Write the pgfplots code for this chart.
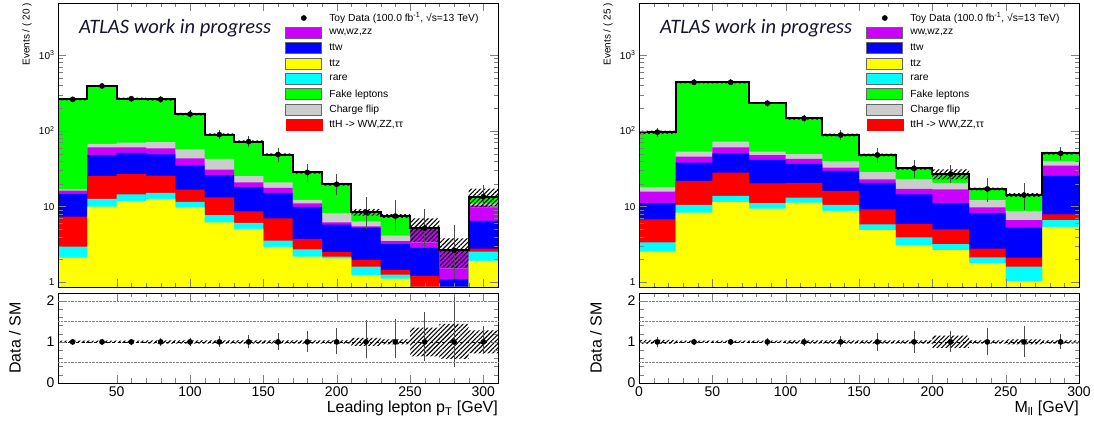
\documentclass[border=0pt]{standalone}
\usepackage{fontspec}
\setmainfont{Liberation Sans}
\newfontfamily\atlasfont{Carlito}
\usepackage{pgfplots}
\pgfplotsset{compat=1.18}
\usepackage{pgfplotstable}
\usetikzlibrary{patterns.meta}

\definecolor{cYel}{RGB}{255,255,0}
\definecolor{cCyan}{RGB}{0,255,255}
\definecolor{cRed}{RGB}{255,0,0}
\definecolor{cBlue}{RGB}{0,0,255}
\definecolor{cMag}{RGB}{204,0,255}
\definecolor{cGray}{RGB}{204,204,204}
\definecolor{cGreen}{RGB}{0,255,0}
\definecolor{cAtlas}{RGB}{20,20,45}

% cumulative stack tops (yel, +cyan, +red, +blue, +mag, +gray, total), data ratio error (rd,ru), band (bd,bu)
\pgfplotstableread{
x   yel  cyn  red  blu  mag  gry  tot  rd   ru   bd   bu
10  2.13 2.96 7.4  14.7 16.3 16.9 260  0.98 1.02 0.97 1.03
30  10   12.6 25.3 47.7 60.5 67   390  0.98 1.02 0.97 1.03
50  11.8 14.5 26.8 51   60.5 69.7 265  0.97 1.03 0.97 1.03
70  12.6 15.2 25.6 49   58.7 71   260  0.96 1.04 0.96 1.04
90  9.8  11.5 16.7 34.6 43.4 57   166  0.95 1.05 0.96 1.04
110 6.2  7.7  13.2 26.1 30.7 42.5 89   0.92 1.09 0.96 1.04
130 5.1  6.1  8.65 18   20.9 25.3 72   0.89 1.12 0.96 1.04
150 2.95 3.55 7.0  15.2 17.6 20.9 48.6 0.85 1.16 0.96 1.04
170 2.19 2.73 3.74 9.9  11   12.3 28.3 0.80 1.22 0.96 1.04
190 2.07 2.19 2.5  5.8  6.2  8.2  19.7 0.76 1.28 0.96 1.04
210 1.25 1.61 1.98 5.3  5.5  6.4  8.4  0.65 1.48 0.90 1.10
230 1.12 1.27 1.46 3.2  3.5  4.15 7.5  0.65 1.52 0.94 1.06
250 0.6  0.7  1.21 2.85 5.1  5.1  5.2  0.58 1.68 0.65 1.35
270 0.4  0.5  0.7  1.1  2.6  2.6  2.65 0.45 2.06 0.58 1.44
290 1.93 2.55 2.8  6.5  10.3 11   13.5 0.75 1.35 0.72 1.28
310 1.93 2.55 2.8  6.5  10.3 11   13.5 0.75 1.35 0.72 1.28
}\leftdata

\pgfplotstableread{
x   yel  cyn  red  blu  mag  gry  tot  rd   ru   bd   bu
0   2.54 3.38 6.8  11.1 15.7 18   96   0.93 1.07 0.95 1.05
25  8.3  10.5 21.8 37.9 45.5 53   436  0.97 1.03 0.97 1.03
50  11.5 13.9 28   50.5 60.5 71.8 436  0.97 1.03 0.97 1.03
75  9.4  11.1 20.3 41.2 47.9 53   231  0.96 1.04 0.97 1.03
100 11.3 13.1 20.6 36.5 42.5 49.4 146  0.95 1.05 0.96 1.04
125 8.75 10.5 16.1 29.5 32.6 39.8 88   0.92 1.09 0.96 1.04
150 4.9  5.85 9.2  20.6 22.9 28.6 48   0.83 1.16 0.96 1.04
175 3.1  3.94 5.9  14.5 17.1 23.1 32   0.78 1.22 0.96 1.04
200 2.67 3.2  5.0  11.1 16.9 20.6 26.9 0.80 1.22 0.85 1.15
225 1.79 2.14 2.8  8.2  9.8  12.2 17.1 0.72 1.30 0.96 1.04
250 1.04 1.61 2.12 5.3  6.65 8.8  14.2 0.68 1.35 0.94 1.06
275 5.4  6.65 7.9  25.4 34.7 39.8 50.5 0.87 1.14 0.96 1.04
300 5.4  6.65 7.9  25.4 34.7 39.8 50.5 0.87 1.14 0.96 1.04
}\rightdata

\tikzset{
  hpat/.style={pattern={Lines[angle=45,distance=3.2pt,line width=1.1pt]}, pattern color=black}
}

\begin{document}
\begin{tikzpicture}[x=1pt,y=1pt]
\useasboundingbox (0,0) rectangle (1094,425);

% ================= LEFT TOP =================
\begin{axis}[scale only axis, width=440pt, height=284pt, axis on top,
  at={(58pt,138pt)}, anchor=south west,
  axis line style={line width=0.9pt},
  major tick length=8pt, minor tick length=4.5pt, tick align=inside,
  xmin=10, xmax=310, xtick={50,100,150,200,250,300}, minor x tick num=4,
  xticklabels={},
  ymode=log, ymin=0.87, ymax=4850, log origin y=infty,
  ytick={1,10,100,1000},
  yticklabels={1,10,10\textsuperscript{2},10\textsuperscript{3}},
  yticklabel style={font=\fontsize{10}{12}\selectfont},
  ylabel={Events / ( 20 )},
  ylabel style={font=\fontsize{10}{12}\selectfont, at={(axis description cs:-0.0705,1)}, anchor=east, inner sep=0pt},
  legend cell align=left,
  legend style={draw=none, fill=none, inner sep=0pt,
    at={(axis description cs:0.5164,0.9673)}, anchor=north west,
    font=\fontsize{10.3}{12}\selectfont, row sep=3.5pt,
    nodes={inner sep=0.5pt}}]
\addplot[const plot, draw=none, forget plot, hpat] table[x=x, y expr=\thisrow{tot}*\thisrow{bu}]{\leftdata} \closedcycle;
\addplot[const plot, draw=none, forget plot, fill=cGreen] table[x=x,y=tot]{\leftdata} \closedcycle;
\addplot[const plot, draw=none, forget plot, fill=cGray] table[x=x,y=gry]{\leftdata} \closedcycle;
\addplot[const plot, draw=none, forget plot, fill=cMag] table[x=x,y=mag]{\leftdata} \closedcycle;
\addplot[const plot, draw=none, forget plot, fill=cBlue] table[x=x,y=blu]{\leftdata} \closedcycle;
\addplot[const plot, draw=none, forget plot, fill=cRed] table[x=x,y=red]{\leftdata} \closedcycle;
\addplot[const plot, draw=none, forget plot, fill=cCyan] table[x=x,y=cyn]{\leftdata} \closedcycle;
\addplot[const plot, draw=none, forget plot, fill=cYel] table[x=x,y=yel]{\leftdata} \closedcycle;
\addplot[const plot, draw=none, forget plot, hpat] table[x=x, y=tot]{\leftdata} \closedcycle;
\addplot[const plot, draw=none, forget plot, fill=cGreen] table[x=x,y expr=\thisrow{tot}*\thisrow{bd}]{\leftdata} \closedcycle;
\addplot[const plot, draw=none, forget plot, fill=cGray] table[x=x,y expr={min(\thisrow{gry},\thisrow{tot}*\thisrow{bd})}]{\leftdata} \closedcycle;
\addplot[const plot, draw=none, forget plot, fill=cMag] table[x=x,y expr={min(\thisrow{mag},\thisrow{tot}*\thisrow{bd})}]{\leftdata} \closedcycle;
\addplot[const plot, draw=none, forget plot, fill=cBlue] table[x=x,y expr={min(\thisrow{blu},\thisrow{tot}*\thisrow{bd})}]{\leftdata} \closedcycle;
\addplot[const plot, draw=none, forget plot, fill=cRed] table[x=x,y expr={min(\thisrow{red},\thisrow{tot}*\thisrow{bd})}]{\leftdata} \closedcycle;
\addplot[const plot, draw=none, forget plot, fill=cCyan] table[x=x,y expr={min(\thisrow{cyn},\thisrow{tot}*\thisrow{bd})}]{\leftdata} \closedcycle;
\addplot[const plot, draw=none, forget plot, fill=cYel] table[x=x,y expr={min(\thisrow{yel},\thisrow{tot}*\thisrow{bd})}]{\leftdata} \closedcycle;
\addplot[const plot, black, line width=2pt, forget plot] table[x=x,y=tot]{\leftdata};
\addplot[forget plot, only marks, mark=*, mark size=2.6pt, black, skip coords between index={15}{16},
  error bars/.cd, y dir=both, y explicit,
  error bar style={line width=0.7pt, black!70},
  error mark options={line width=0.7pt, black!70, mark size=2pt}]
  table[x expr=\thisrow{x}+10, y=tot,
  y error plus expr=\thisrow{tot}*(\thisrow{ru}-1), y error minus expr=\thisrow{tot}*(1-\thisrow{rd})]{\leftdata};
\addlegendimage{legend image code/.code={\path[draw=none,fill=none] (0pt,-5.5pt) rectangle (43pt,5.5pt); \fill[black] (18pt,0pt) circle (2.6pt);}}
\addlegendentry{Toy Data (100.0 fb\textsuperscript{-1}, √s=13 TeV)}
\addlegendimage{legend image code/.code={\path[draw=none,fill=none] (0pt,-5.5pt) rectangle (43pt,5.5pt); \draw[fill=cMag, draw=black!60, line width=0.8pt] (0pt,-5.5pt) rectangle (36pt,5.5pt);}}
\addlegendentry{ww,wz,zz}
\addlegendimage{legend image code/.code={\path[draw=none,fill=none] (0pt,-5.5pt) rectangle (43pt,5.5pt); \draw[fill=cBlue, draw=black!60, line width=0.8pt] (0pt,-5.5pt) rectangle (36pt,5.5pt);}}
\addlegendentry{ttw}
\addlegendimage{legend image code/.code={\path[draw=none,fill=none] (0pt,-5.5pt) rectangle (43pt,5.5pt); \draw[fill=cYel, draw=black!60, line width=0.8pt] (0pt,-5.5pt) rectangle (36pt,5.5pt);}}
\addlegendentry{ttz}
\addlegendimage{legend image code/.code={\path[draw=none,fill=none] (0pt,-5.5pt) rectangle (43pt,5.5pt); \draw[fill=cCyan, draw=black!60, line width=0.8pt] (0pt,-5.5pt) rectangle (36pt,5.5pt);}}
\addlegendentry{rare}
\addlegendimage{legend image code/.code={\path[draw=none,fill=none] (0pt,-5.5pt) rectangle (43pt,5.5pt); \draw[fill=cGreen, draw=black!60, line width=0.8pt] (0pt,-5.5pt) rectangle (36pt,5.5pt);}}
\addlegendentry{Fake leptons}
\addlegendimage{legend image code/.code={\path[draw=none,fill=none] (0pt,-5.5pt) rectangle (43pt,5.5pt); \draw[fill=cGray, draw=black!60, line width=0.8pt] (0pt,-5.5pt) rectangle (36pt,5.5pt);}}
\addlegendentry{Charge flip}
\addlegendimage{legend image code/.code={\path[draw=none,fill=none] (0pt,-5.5pt) rectangle (43pt,5.5pt); \fill[cRed] (0pt,-5.5pt) rectangle (36pt,5.5pt);}}
\addlegendentry{ttH -> WW,ZZ,ττ}
\end{axis}

% ================= LEFT RATIO =================
\begin{axis}[scale only axis, width=440pt, height=90pt, axis on top,
  at={(58pt,42pt)}, anchor=south west,
  axis line style={line width=0.9pt},
  major tick length=8pt, minor tick length=4.5pt, tick align=inside,
  xmin=10, xmax=310, xtick={50,100,150,200,250,300}, minor x tick num=4,
  xticklabels={50,100,150,200,250,300},
  ymin=0, ymax=2.19, ytick={0,1,2}, yticklabels={0,1,2}, minor y tick num=4,
  ticklabel style={font=\fontsize{14}{16}\selectfont},
  ylabel={Data / SM},
  ylabel style={font=\fontsize{16}{18}\selectfont, at={(axis description cs:-0.0977,0.5)}, anchor=center},
  xlabel={Leading lepton p\textsubscript{T} [GeV]},
  xlabel style={font=\fontsize{16}{18}\selectfont, at={(axis description cs:1,-0.333)}, anchor=base east, inner sep=0pt},
  extra y ticks={0.5,1.5,2}, extra y tick labels={},
  extra y tick style={grid=major, major tick length=0pt},
  major grid style={densely dotted, black!50, line width=0.5pt}]
\addplot[const plot, draw=none, forget plot, hpat] table[x=x, y=bu]{\leftdata} \closedcycle;
\addplot[const plot, draw=none, forget plot, fill=white] table[x=x, y=bd]{\leftdata} \closedcycle;
\addplot[black, dashed, line width=0.6pt, forget plot] coordinates {(10,1) (310,1)};
\addplot[forget plot, only marks, mark=*, mark size=2.6pt, black, skip coords between index={15}{16},
  error bars/.cd, y dir=both, y explicit,
  error bar style={line width=0.7pt, black!70},
  error mark options={line width=0.7pt, black!70, mark size=2pt}]
  table[x expr=\thisrow{x}+10, y expr=1,
  y error plus expr=\thisrow{ru}-1, y error minus expr=1-\thisrow{rd}]{\leftdata};
\end{axis}

% ================= RIGHT TOP =================
\begin{axis}[scale only axis, width=440pt, height=284pt, axis on top,
  at={(639pt,138pt)}, anchor=south west,
  axis line style={line width=0.9pt},
  major tick length=8pt, minor tick length=4.5pt, tick align=inside,
  xmin=0, xmax=300, xtick={0,50,100,150,200,250,300}, minor x tick num=4,
  xticklabels={},
  ymode=log, ymin=0.87, ymax=4850, log origin y=infty,
  ytick={1,10,100,1000},
  yticklabels={1,10,10\textsuperscript{2},10\textsuperscript{3}},
  yticklabel style={font=\fontsize{10}{12}\selectfont},
  ylabel={Events / ( 25 )},
  ylabel style={font=\fontsize{10}{12}\selectfont, at={(axis description cs:-0.0705,1)}, anchor=east, inner sep=0pt},
  legend cell align=left,
  legend style={draw=none, fill=none, inner sep=0pt,
    at={(axis description cs:0.5164,0.9673)}, anchor=north west,
    font=\fontsize{10.3}{12}\selectfont, row sep=3.5pt,
    nodes={inner sep=0.5pt}}]
\addplot[const plot, draw=none, forget plot, hpat] table[x=x, y expr=\thisrow{tot}*\thisrow{bu}]{\rightdata} \closedcycle;
\addplot[const plot, draw=none, forget plot, fill=cGreen] table[x=x,y=tot]{\rightdata} \closedcycle;
\addplot[const plot, draw=none, forget plot, fill=cGray] table[x=x,y=gry]{\rightdata} \closedcycle;
\addplot[const plot, draw=none, forget plot, fill=cMag] table[x=x,y=mag]{\rightdata} \closedcycle;
\addplot[const plot, draw=none, forget plot, fill=cBlue] table[x=x,y=blu]{\rightdata} \closedcycle;
\addplot[const plot, draw=none, forget plot, fill=cRed] table[x=x,y=red]{\rightdata} \closedcycle;
\addplot[const plot, draw=none, forget plot, fill=cCyan] table[x=x,y=cyn]{\rightdata} \closedcycle;
\addplot[const plot, draw=none, forget plot, fill=cYel] table[x=x,y=yel]{\rightdata} \closedcycle;
\addplot[const plot, draw=none, forget plot, hpat] table[x=x, y=tot]{\rightdata} \closedcycle;
\addplot[const plot, draw=none, forget plot, fill=cGreen] table[x=x,y expr=\thisrow{tot}*\thisrow{bd}]{\rightdata} \closedcycle;
\addplot[const plot, draw=none, forget plot, fill=cGray] table[x=x,y expr={min(\thisrow{gry},\thisrow{tot}*\thisrow{bd})}]{\rightdata} \closedcycle;
\addplot[const plot, draw=none, forget plot, fill=cMag] table[x=x,y expr={min(\thisrow{mag},\thisrow{tot}*\thisrow{bd})}]{\rightdata} \closedcycle;
\addplot[const plot, draw=none, forget plot, fill=cBlue] table[x=x,y expr={min(\thisrow{blu},\thisrow{tot}*\thisrow{bd})}]{\rightdata} \closedcycle;
\addplot[const plot, draw=none, forget plot, fill=cRed] table[x=x,y expr={min(\thisrow{red},\thisrow{tot}*\thisrow{bd})}]{\rightdata} \closedcycle;
\addplot[const plot, draw=none, forget plot, fill=cCyan] table[x=x,y expr={min(\thisrow{cyn},\thisrow{tot}*\thisrow{bd})}]{\rightdata} \closedcycle;
\addplot[const plot, draw=none, forget plot, fill=cYel] table[x=x,y expr={min(\thisrow{yel},\thisrow{tot}*\thisrow{bd})}]{\rightdata} \closedcycle;
\addplot[const plot, black, line width=2pt, forget plot] table[x=x,y=tot]{\rightdata};
\addplot[forget plot, only marks, mark=*, mark size=2.6pt, black, skip coords between index={12}{13},
  error bars/.cd, y dir=both, y explicit,
  error bar style={line width=0.7pt, black!70},
  error mark options={line width=0.7pt, black!70, mark size=2pt}]
  table[x expr=\thisrow{x}+12.5, y=tot,
  y error plus expr=\thisrow{tot}*(\thisrow{ru}-1), y error minus expr=\thisrow{tot}*(1-\thisrow{rd})]{\rightdata};
\addlegendimage{legend image code/.code={\path[draw=none,fill=none] (0pt,-5.5pt) rectangle (43pt,5.5pt); \fill[black] (18pt,0pt) circle (2.6pt);}}
\addlegendentry{Toy Data (100.0 fb\textsuperscript{-1}, √s=13 TeV)}
\addlegendimage{legend image code/.code={\path[draw=none,fill=none] (0pt,-5.5pt) rectangle (43pt,5.5pt); \draw[fill=cMag, draw=black!60, line width=0.8pt] (0pt,-5.5pt) rectangle (36pt,5.5pt);}}
\addlegendentry{ww,wz,zz}
\addlegendimage{legend image code/.code={\path[draw=none,fill=none] (0pt,-5.5pt) rectangle (43pt,5.5pt); \draw[fill=cBlue, draw=black!60, line width=0.8pt] (0pt,-5.5pt) rectangle (36pt,5.5pt);}}
\addlegendentry{ttw}
\addlegendimage{legend image code/.code={\path[draw=none,fill=none] (0pt,-5.5pt) rectangle (43pt,5.5pt); \draw[fill=cYel, draw=black!60, line width=0.8pt] (0pt,-5.5pt) rectangle (36pt,5.5pt);}}
\addlegendentry{ttz}
\addlegendimage{legend image code/.code={\path[draw=none,fill=none] (0pt,-5.5pt) rectangle (43pt,5.5pt); \draw[fill=cCyan, draw=black!60, line width=0.8pt] (0pt,-5.5pt) rectangle (36pt,5.5pt);}}
\addlegendentry{rare}
\addlegendimage{legend image code/.code={\path[draw=none,fill=none] (0pt,-5.5pt) rectangle (43pt,5.5pt); \draw[fill=cGreen, draw=black!60, line width=0.8pt] (0pt,-5.5pt) rectangle (36pt,5.5pt);}}
\addlegendentry{Fake leptons}
\addlegendimage{legend image code/.code={\path[draw=none,fill=none] (0pt,-5.5pt) rectangle (43pt,5.5pt); \draw[fill=cGray, draw=black!60, line width=0.8pt] (0pt,-5.5pt) rectangle (36pt,5.5pt);}}
\addlegendentry{Charge flip}
\addlegendimage{legend image code/.code={\path[draw=none,fill=none] (0pt,-5.5pt) rectangle (43pt,5.5pt); \fill[cRed] (0pt,-5.5pt) rectangle (36pt,5.5pt);}}
\addlegendentry{ttH -> WW,ZZ,ττ}
\end{axis}

% ================= RIGHT RATIO =================
\begin{axis}[scale only axis, width=440pt, height=90pt, axis on top,
  at={(639pt,42pt)}, anchor=south west,
  axis line style={line width=0.9pt},
  major tick length=8pt, minor tick length=4.5pt, tick align=inside,
  xmin=0, xmax=300, xtick={0,50,100,150,200,250,300}, minor x tick num=4,
  xticklabels={0,50,100,150,200,250,300},
  ymin=0, ymax=2.19, ytick={0,1,2}, yticklabels={0,1,2}, minor y tick num=4,
  ticklabel style={font=\fontsize{14}{16}\selectfont},
  ylabel={Data / SM},
  ylabel style={font=\fontsize{16}{18}\selectfont, at={(axis description cs:-0.0977,0.5)}, anchor=center},
  xlabel={M\textsubscript{ll} [GeV]},
  xlabel style={font=\fontsize{16}{18}\selectfont, at={(axis description cs:1,-0.333)}, anchor=base east, inner sep=0pt},
  extra y ticks={0.5,1.5,2}, extra y tick labels={},
  extra y tick style={grid=major, major tick length=0pt},
  major grid style={densely dotted, black!50, line width=0.5pt}]
\addplot[const plot, draw=none, forget plot, hpat] table[x=x, y=bu]{\rightdata} \closedcycle;
\addplot[const plot, draw=none, forget plot, fill=white] table[x=x, y=bd]{\rightdata} \closedcycle;
\addplot[black, dashed, line width=0.6pt, forget plot] coordinates {(0,1) (300,1)};
\addplot[forget plot, only marks, mark=*, mark size=2.6pt, black, skip coords between index={12}{13},
  error bars/.cd, y dir=both, y explicit,
  error bar style={line width=0.7pt, black!70},
  error mark options={line width=0.7pt, black!70, mark size=2pt}]
  table[x expr=\thisrow{x}+12.5, y expr=1,
  y error plus expr=\thisrow{ru}-1, y error minus expr=1-\thisrow{rd}]{\rightdata};
\end{axis}

\node[anchor=base west, inner sep=0pt, text=cAtlas, font=\atlasfont\itshape\fontsize{20.5}{23}\selectfont] at (79,391) {ATLAS work in progress};
\node[anchor=base west, inner sep=0pt, text=cAtlas, font=\atlasfont\itshape\fontsize{20.5}{23}\selectfont] at (660,391) {ATLAS work in progress};
\end{tikzpicture}
\end{document}
